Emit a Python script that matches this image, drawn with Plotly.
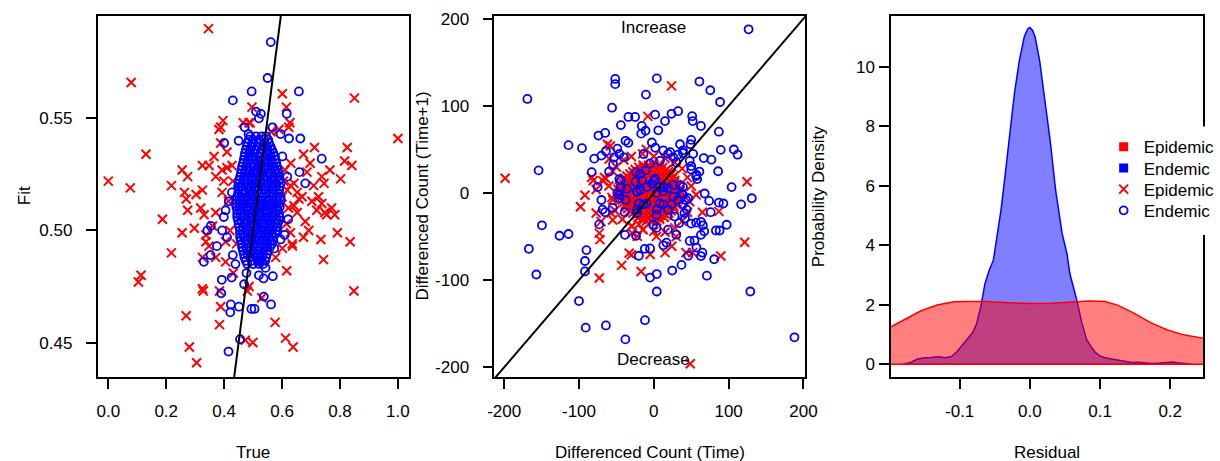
import plotly.graph_objects as go

# ------------------------------------------------------------------ data
# Panel 1: (True, Fit)
fit_epidemic = [
    (0.346, 0.590), (0.079, 0.566), (0.130, 0.534), (0.000, 0.522), (0.076, 0.519), (0.218, 0.520),
    (0.187, 0.505), (0.255, 0.527), (0.274, 0.524), (0.263, 0.517), (0.269, 0.514), (0.274, 0.509),
    (0.255, 0.499), (0.218, 0.490), (0.113, 0.480), (0.104, 0.477), (0.269, 0.462), (0.280, 0.448),
    (0.305, 0.441), (0.325, 0.474), (0.328, 0.473), (0.384, 0.458), (0.388, 0.466), (0.384, 0.473),
    (0.325, 0.518), (0.319, 0.510), (0.303, 0.516), (0.331, 0.507), (0.297, 0.501), (0.337, 0.495),
    (0.348, 0.493), (0.325, 0.488), (0.348, 0.529), (0.325, 0.529), (0.365, 0.533), (0.382, 0.545),
    (0.388, 0.546), (0.396, 0.549), (0.371, 0.524), (0.393, 0.527), (0.410, 0.528), (0.427, 0.529),
    (0.399, 0.522), (0.393, 0.517), (0.388, 0.539), (0.371, 0.508), (0.360, 0.502), (0.337, 0.498),
    (0.371, 0.488), (0.405, 0.486), (0.473, 0.451), (0.499, 0.450), (0.490, 0.548), (0.496, 0.555),
    (0.601, 0.561), (0.850, 0.559), (1.000, 0.541), (0.615, 0.555), (0.627, 0.548), (0.712, 0.537),
    (0.825, 0.537), (0.816, 0.531), (0.841, 0.529), (0.765, 0.527), (0.802, 0.523), (0.737, 0.524),
    (0.745, 0.521), (0.697, 0.530), (0.674, 0.534), (0.686, 0.526), (0.629, 0.520), (0.652, 0.517),
    (0.669, 0.515), (0.703, 0.513), (0.726, 0.515), (0.748, 0.508), (0.782, 0.507), (0.737, 0.512),
    (0.680, 0.504), (0.692, 0.500), (0.674, 0.497), (0.641, 0.511), (0.652, 0.508), (0.629, 0.499),
    (0.635, 0.494), (0.734, 0.496), (0.791, 0.499), (0.835, 0.495), (0.743, 0.487), (0.616, 0.482),
    (0.578, 0.488), (0.848, 0.473), (0.576, 0.459), (0.612, 0.452), (0.638, 0.448), (0.601, 0.492),
    (0.641, 0.521), (0.618, 0.518), (0.658, 0.514), (0.709, 0.520), (0.720, 0.509), (0.771, 0.510),
    (0.754, 0.507), (0.623, 0.546), (0.589, 0.545), (0.562, 0.544), (0.466, 0.548), (0.486, 0.548),
    (0.530, 0.470), (0.480, 0.473), (0.486, 0.475), (0.636, 0.493), (0.432, 0.481), (0.443, 0.494),
    (0.610, 0.527), (0.622, 0.510), (0.600, 0.515), (0.615, 0.503), (0.630, 0.530), (0.605, 0.522),
    (0.415, 0.513), (0.420, 0.500), (0.405, 0.495), (0.430, 0.522), (0.410, 0.535),
]

fit_endemic_outer = [
    (0.561, 0.584), (0.550, 0.568), (0.658, 0.562), (0.495, 0.562), (0.430, 0.558), (0.616, 0.552),
    (0.510, 0.553), (0.527, 0.552), (0.520, 0.550), (0.567, 0.546), (0.595, 0.543), (0.624, 0.541),
    (0.663, 0.541), (0.737, 0.532), (0.660, 0.526), (0.680, 0.521), (0.618, 0.524), (0.601, 0.533),
    (0.621, 0.505), (0.609, 0.498), (0.584, 0.500), (0.595, 0.496), (0.573, 0.492), (0.400, 0.539),
    (0.450, 0.540), (0.471, 0.546), (0.484, 0.543), (0.354, 0.502), (0.342, 0.500), (0.330, 0.486),
    (0.353, 0.489), (0.375, 0.493), (0.393, 0.500), (0.399, 0.506), (0.392, 0.478), (0.426, 0.479),
    (0.469, 0.476), (0.390, 0.472), (0.423, 0.467), (0.421, 0.4635), (0.451, 0.466), (0.494, 0.465),
    (0.505, 0.465), (0.455, 0.4515), (0.415, 0.446), (0.405, 0.509), (0.416, 0.513), (0.427, 0.517),
    (0.410, 0.497), (0.430, 0.489), (0.439, 0.485), (0.537, 0.4705), (0.562, 0.467), (0.520, 0.480),
    (0.543, 0.4833), (0.568, 0.4796), (0.536, 0.4786), (0.477, 0.481), (0.522, 0.486),
]

fit_endemic_core = [
    (0.490, 0.542), (0.510, 0.542), (0.530, 0.542), (0.545, 0.542),
    (0.480, 0.539), (0.500, 0.539), (0.520, 0.539), (0.540, 0.539), (0.555, 0.539),
    (0.475, 0.536), (0.490, 0.536), (0.510, 0.536), (0.530, 0.536), (0.550, 0.536), (0.565, 0.536),
    (0.470, 0.533), (0.485, 0.533), (0.500, 0.533), (0.520, 0.533), (0.540, 0.533), (0.560, 0.533),
    (0.575, 0.533),
    (0.465, 0.530), (0.480, 0.530), (0.500, 0.530), (0.515, 0.530), (0.530, 0.530), (0.550, 0.530),
    (0.565, 0.530), (0.580, 0.530),
    (0.460, 0.527), (0.475, 0.527), (0.490, 0.527), (0.510, 0.527), (0.525, 0.527), (0.540, 0.527),
    (0.560, 0.527), (0.575, 0.527), (0.585, 0.527),
    (0.455, 0.524), (0.470, 0.524), (0.485, 0.524), (0.500, 0.524), (0.520, 0.524), (0.535, 0.524),
    (0.550, 0.524), (0.570, 0.524), (0.585, 0.524),
    (0.450, 0.521), (0.465, 0.521), (0.480, 0.521), (0.500, 0.521), (0.515, 0.521), (0.530, 0.521),
    (0.550, 0.521), (0.565, 0.521), (0.580, 0.521), (0.595, 0.521),
    (0.450, 0.518), (0.465, 0.518), (0.485, 0.518), (0.505, 0.518), (0.520, 0.518), (0.540, 0.518),
    (0.555, 0.518), (0.570, 0.518), (0.590, 0.518),
    (0.445, 0.515), (0.460, 0.515), (0.480, 0.515), (0.495, 0.515), (0.510, 0.515), (0.530, 0.515),
    (0.545, 0.515), (0.565, 0.515), (0.580, 0.515), (0.595, 0.515),
    (0.440, 0.512), (0.455, 0.512), (0.475, 0.512), (0.490, 0.512), (0.510, 0.512), (0.525, 0.512),
    (0.540, 0.512), (0.560, 0.512), (0.575, 0.512), (0.590, 0.512),
    (0.445, 0.509), (0.460, 0.509), (0.480, 0.509), (0.500, 0.509), (0.515, 0.509), (0.535, 0.509),
    (0.550, 0.509), (0.570, 0.509), (0.585, 0.509),
    (0.445, 0.506), (0.465, 0.506), (0.485, 0.506), (0.500, 0.506), (0.520, 0.506), (0.540, 0.506),
    (0.555, 0.506), (0.570, 0.506), (0.590, 0.506),
    (0.450, 0.503), (0.470, 0.503), (0.490, 0.503), (0.505, 0.503), (0.525, 0.503), (0.540, 0.503),
    (0.560, 0.503), (0.575, 0.503), (0.585, 0.503),
    (0.455, 0.500), (0.475, 0.500), (0.490, 0.500), (0.510, 0.500), (0.530, 0.500), (0.545, 0.500),
    (0.560, 0.500), (0.580, 0.500),
    (0.455, 0.497), (0.470, 0.497), (0.490, 0.497), (0.505, 0.497), (0.520, 0.497), (0.540, 0.497),
    (0.555, 0.497), (0.570, 0.497),
    (0.460, 0.494), (0.480, 0.494), (0.500, 0.494), (0.515, 0.494), (0.535, 0.494), (0.550, 0.494),
    (0.565, 0.494),
    (0.465, 0.491), (0.485, 0.491), (0.500, 0.491), (0.520, 0.491), (0.535, 0.491), (0.550, 0.491),
    (0.470, 0.488), (0.490, 0.488), (0.510, 0.488), (0.525, 0.488), (0.545, 0.488),
    (0.480, 0.485), (0.500, 0.485), (0.520, 0.485), (0.535, 0.485),
]

fit_endemic_core_b = [
    (0.485, 0.5405), (0.500, 0.5405), (0.520, 0.5405), (0.538, 0.5405), (0.552, 0.5405),
    (0.478, 0.5375), (0.495, 0.5375), (0.515, 0.5375), (0.535, 0.5375), (0.548, 0.5375), (0.560, 0.5375),
    (0.472, 0.5345), (0.488, 0.5345), (0.505, 0.5345), (0.525, 0.5345), (0.545, 0.5345), (0.558, 0.5345),
    (0.570, 0.5345),
    (0.468, 0.5315), (0.483, 0.5315), (0.498, 0.5315), (0.510, 0.5315), (0.528, 0.5315), (0.545, 0.5315),
    (0.562, 0.5315), (0.577, 0.5315),
    (0.462, 0.5285), (0.478, 0.5285), (0.492, 0.5285), (0.505, 0.5285), (0.520, 0.5285), (0.535, 0.5285),
    (0.552, 0.5285), (0.570, 0.5285), (0.582, 0.5285),
    (0.458, 0.5255), (0.472, 0.5255), (0.488, 0.5255), (0.505, 0.5255), (0.518, 0.5255), (0.532, 0.5255),
    (0.548, 0.5255), (0.562, 0.5255), (0.578, 0.5255), (0.588, 0.5255),
    (0.452, 0.5225), (0.468, 0.5225), (0.482, 0.5225), (0.495, 0.5225), (0.510, 0.5225), (0.525, 0.5225),
    (0.542, 0.5225), (0.560, 0.5225), (0.575, 0.5225), (0.590, 0.5225),
    (0.448, 0.5195), (0.458, 0.5195), (0.475, 0.5195), (0.492, 0.5195), (0.510, 0.5195), (0.528, 0.5195),
    (0.545, 0.5195), (0.562, 0.5195), (0.578, 0.5195), (0.592, 0.5195),
    (0.448, 0.5165), (0.462, 0.5165), (0.472, 0.5165), (0.490, 0.5165), (0.502, 0.5165), (0.520, 0.5165),
    (0.538, 0.5165), (0.555, 0.5165), (0.572, 0.5165), (0.588, 0.5165),
    (0.442, 0.5135), (0.452, 0.5135), (0.468, 0.5135), (0.485, 0.5135), (0.500, 0.5135), (0.518, 0.5135),
    (0.532, 0.5135), (0.552, 0.5135), (0.568, 0.5135), (0.582, 0.5135), (0.595, 0.5135),
    (0.442, 0.5105), (0.452, 0.5105), (0.468, 0.5105), (0.485, 0.5105), (0.505, 0.5105), (0.520, 0.5105),
    (0.530, 0.5105), (0.545, 0.5105), (0.565, 0.5105), (0.580, 0.5105), (0.592, 0.5105),
    (0.445, 0.5075), (0.455, 0.5075), (0.472, 0.5075), (0.490, 0.5075), (0.508, 0.5075), (0.525, 0.5075),
    (0.545, 0.5075), (0.562, 0.5075), (0.578, 0.5075), (0.590, 0.5075),
    (0.448, 0.5045), (0.458, 0.5045), (0.478, 0.5045), (0.495, 0.5045), (0.512, 0.5045), (0.530, 0.5045),
    (0.548, 0.5045), (0.562, 0.5045), (0.580, 0.5045), (0.590, 0.5045),
    (0.452, 0.5015), (0.465, 0.5015), (0.482, 0.5015), (0.500, 0.5015), (0.518, 0.5015), (0.535, 0.5015),
    (0.552, 0.5015), (0.568, 0.5015), (0.582, 0.5015),
    (0.455, 0.4985), (0.465, 0.4985), (0.482, 0.4985), (0.498, 0.4985), (0.515, 0.4985), (0.532, 0.4985),
    (0.550, 0.4985), (0.565, 0.4985), (0.578, 0.4985),
    (0.458, 0.4955), (0.475, 0.4955), (0.495, 0.4955), (0.510, 0.4955), (0.528, 0.4955), (0.545, 0.4955),
    (0.560, 0.4955), (0.570, 0.4955),
    (0.462, 0.4925), (0.478, 0.4925), (0.492, 0.4925), (0.510, 0.4925), (0.525, 0.4925), (0.542, 0.4925),
    (0.558, 0.4925),
    (0.468, 0.4895), (0.480, 0.4895), (0.498, 0.4895), (0.515, 0.4895), (0.532, 0.4895), (0.548, 0.4895),
    (0.475, 0.4865), (0.495, 0.4865), (0.515, 0.4865), (0.530, 0.4865), (0.542, 0.4865),
]

# Panel 2: (Differenced Count (Time), Differenced Count (Time+1))
diff_epidemic_outer = [
    (-198.7, 17), (-92, -2.5), (-98, -15.7), (-72.8, -97.6), (-43, -83), (-17, -90), (-66, 18),
    (-59.6, 39), (-83, 18), (-77, -23), (-72.8, -46), (-72, -53.5), (-70.6, -32.8), (-57, -23),
    (-55, -31), (-33, -69), (-20, -36), (-29, -46), (-62, 56), (-77, 4), (-55, -8),
    (23.7, 123), (124.6, 13), (121.5, -56.5), (89.5, -72.3), (87, -21), (65, -22), (56.6, -2),
    (48.7, -196), (15, -68.4), (24, -61), (43, -68.4), (52, -68.4),
    (-30, -71), (-5, -70.5), (3.5, -49.7), (-22, -49.7), (-29, -38), (-14, -42),
    (-8, 88), (-81, 14.5), (-68, 14), (-64, 16.6), (-58, 54),
    (-55, 25), (-50, 30), (-40, 38), (-30, 42), (-15, 45), (0, 42), (15, 40), (28, 35), (38, 28),
    (45, 18), (50, 8), (48, -10), (45, -22), (38, -32), (28, -40), (15, -45), (0, -44), (-15, -42),
    (-30, -38), (-42, -30), (-52, -20), (-56, -5), (-60, 8), (-10, 50), (30, -50),
]

diff_epidemic_core = [
    (-14, 32), (-7, 32), (0, 32), (7, 32),
    (-25, 27), (-18, 27), (-11, 27), (-4, 27), (3, 27), (10, 27), (17, 27),
    (-32, 22), (-25, 22), (-18, 22), (-11, 22), (-4, 22), (3, 22), (10, 22), (17, 22), (24, 22),
    (-39, 17), (-32, 17), (-25, 17), (-18, 17), (-11, 17), (-4, 17), (3, 17), (10, 17), (17, 17),
    (25, 17),
    (-42, 12), (-35, 12), (-28, 12), (-21, 12), (-14, 12), (-7, 12), (0, 12), (7, 12), (14, 12),
    (21, 12), (28, 12),
    (-46, 7), (-39, 7), (-32, 7), (-25, 7), (-18, 7), (-11, 7), (-4, 7), (3, 7), (10, 7), (17, 7),
    (24, 7), (31, 7),
    (-46, 2), (-39, 2), (-32, 2), (-25, 2), (-18, 2), (-11, 2), (-4, 2), (3, 2), (10, 2), (17, 2),
    (24, 2), (31, 2), (35, 2),
    (-45, -3), (-38, -3), (-31, -3), (-24, -3), (-17, -3), (-10, -3), (-3, -3), (4, -3), (11, -3),
    (18, -3), (25, -3), (32, -3),
    (-42, -8), (-35, -8), (-28, -8), (-21, -8), (-14, -8), (-7, -8), (0, -8), (7, -8), (14, -8),
    (21, -8), (28, -8), (33, -8),
    (-38, -13), (-31, -13), (-24, -13), (-17, -13), (-10, -13), (-3, -13), (4, -13), (11, -13),
    (18, -13), (24, -13), (30, -13),
    (-35, -18), (-28, -18), (-21, -18), (-14, -18), (-7, -18), (0, -18), (7, -18), (14, -18),
    (21, -18), (27, -18),
    (-28, -23), (-21, -23), (-14, -23), (-7, -23), (0, -23), (6, -23), (13, -23), (20, -23),
    (-21, -28), (-14, -28), (-7, -28), (0, -28), (7, -28), (14, -28),
    (-10, -32), (-3, -32), (4, -32),
]

diff_epidemic_core_b = [
    (-20, 29.5), (-14, 29.5), (-7, 29.5), (0, 29.5), (7, 29.5), (12, 29.5),
    (-28, 24.5), (-21, 24.5), (-14, 24.5), (-7, 24.5), (0, 24.5), (7, 24.5), (14, 24.5), (20, 24.5),
    (-36, 19.5), (-28, 19.5), (-21, 19.5), (-14, 19.5), (-7, 19.5), (0, 19.5), (7, 19.5), (14, 19.5),
    (21, 19.5), (27, 19.5),
    (-40, 14.5), (-35, 14.5), (-28, 14.5), (-21, 14.5), (-14, 14.5), (-7, 14.5), (0, 14.5), (7, 14.5),
    (14, 14.5), (21, 14.5), (28, 14.5),
    (-44, 9.5), (-38, 9.5), (-31, 9.5), (-24, 9.5), (-17, 9.5), (-10, 9.5), (-3, 9.5), (4, 9.5),
    (11, 9.5), (18, 9.5), (25, 9.5), (31, 9.5),
    (-48, 4.5), (-42, 4.5), (-35, 4.5), (-28, 4.5), (-21, 4.5), (-14, 4.5), (-7, 4.5), (0, 4.5),
    (7, 4.5), (14, 4.5), (21, 4.5), (28, 4.5), (34, 4.5),
    (-48, -0.5), (-42, -0.5), (-35, -0.5), (-28, -0.5), (-21, -0.5), (-14, -0.5), (-7, -0.5), (0, -0.5),
    (7, -0.5), (14, -0.5), (21, -0.5), (28, -0.5), (34, -0.5),
    (-44, -5.5), (-40, -5.5), (-35, -5.5), (-28, -5.5), (-21, -5.5), (-14, -5.5), (-7, -5.5), (0, -5.5),
    (7, -5.5), (14, -5.5), (21, -5.5), (28, -5.5), (34, -5.5),
    (-40, -10.5), (-31, -10.5), (-24, -10.5), (-17, -10.5), (-10, -10.5), (-3, -10.5), (4, -10.5),
    (11, -10.5), (18, -10.5), (25, -10.5), (31, -10.5),
    (-37, -15.5), (-28, -15.5), (-21, -15.5), (-14, -15.5), (-7, -15.5), (0, -15.5), (7, -15.5),
    (14, -15.5), (21, -15.5), (27, -15.5),
    (-32, -20.5), (-24, -20.5), (-17, -20.5), (-10, -20.5), (-3, -20.5), (4, -20.5), (10, -20.5),
    (17, -20.5), (23, -20.5),
    (-24, -25.5), (-17, -25.5), (-10, -25.5), (-3, -25.5), (4, -25.5), (10, -25.5), (17, -25.5),
    (-16, -30), (-7, -30), (0, -30), (8, -30),
]

diff_endemic = [
    (-169, 108), (-154, 26), (-149.5, -37), (-167, -64), (-157, -93.5), (-126, -49), (-114, -47),
    (-90, -65.5), (-92, -78), (-92, -90), (-100, -124), (-91, -154.5), (-64, -152), (-38, -168),
    (-11.8, -146), (-51.5, 131), (-51.5, 125), (-10.5, 113), (-55.8, 98), (-33.9, 87.4), (-25, 87.4),
    (-44, 78), (-74, 66), (-65, 69), (-114, 55), (-96, 51.5), (-79.6, 39.5), (-64, 48), (-54.4, 33),
    (-48.7, 51), (-37.8, 60), (-34, 57.6), (-40, 41), (-16, 77), (-16.8, 68.2), (-13.7, 44.8),
    (-83, 24), (-75, 7), (-70, -8), (-65, -22), (-73, -36), (-39, -22), (-38.6, -48), (-23.7, -49),
    (-20, -72), (-12, -64), (-5, -97), (-46, 16), (-44, 7), (-46, -2), (-24, 24), (-23, 1.5),
    (-20, -12),
    (126.7, 188), (4, 131.6), (61, 128), (75.5, 118), (88.6, 104.5), (1.8, 90), (15, 82.6),
    (23.7, 91), (32.5, 94), (6, 72), (51.3, 88.2), (52, 82.6), (63, 77), (87, 70.4), (50, 61),
    (49, 56), (89.5, 49.6), (107, 50), (112, 44), (66.7, 40.2), (77, 38.3), (86, 25), (56.6, 19.5),
    (58, 16), (104, 6.8), (131, -6), (116.7, -13), (68, -0.5), (74, -9), (87, -11), (93, -12),
    (76, -22), (97.4, -36.4), (83, -43), (88, -43), (67.5, -44), (63, -48), (50, -35), (56.6, -34),
    (63, -33), (54.4, -54.6), (63, -72.3), (65, -68.5), (80.7, -76), (71, -94.9), (37, -82.5),
    (24.6, -89), (4, -93), (4, -113), (129, -113), (188, -165.6), (41, -23), (43, -8), (39, 7),
    (50, 27), (30, 35), (39, 46), (32.5, 44),
    (-44, 14.5), (-48.7, 0), (-46, -6), (-36, 5), (-22.4, 2), (-24.6, 13), (-16, 14.5), (-9, 7),
    (0, 14.5), (8.3, 7), (4, 0), (12.7, 2), (19, 5.7), (26, -4), (35, 9), (37, 0), (46, -6),
    (-11, 26), (-5, 34), (8.3, 37), (19, 45), (26, 41), (12.7, 49), (2, 52), (-2.6, 58),
    (-11, 71.5), (-46, 45), (-53, 41), (-70, 43), (-59.7, 24.7), (-68.5, -19), (-55, -17),
    (-22.4, -19), (-13.6, -13), (4, -19), (12.7, -13), (19, -19), (23.7, -13), (39, -13), (44, -19),
    (57, 21), (61, 24.7), (50, 31), (48, 37), (52.6, 45), (39, 49), (35, 56), (22, 47),
    (-5, -63.6), (12.7, -60), (17, -57), (48, -55), (57, -62.6), (46, -72), (41.7, -29), (65.6, -37),
    (28, -27), (3.5, -40), (-1, -36.4), (19, -42), (30, -47.8), (33.7, -34.6),
    (-18, 22), (2, 16.4), (13, 7), (26, 9), (-9.6, -12), (8, -12), (-37.7, -8), (-22.4, -23),
    (3.5, -25), (32, -8), (39, -2), (-18, 3.5), (-2.6, 11),
]

# Panel 3: kernel density of residuals
resid_endemic_x = [
    -0.181, -0.170, -0.160, -0.150, -0.140, -0.130, -0.120, -0.112, -0.104, -0.097, -0.090, -0.082,
    -0.076, -0.070, -0.064, -0.058, -0.052, -0.048, -0.041, -0.035, -0.030, -0.022, -0.015, -0.008,
    -0.003, 0.000, 0.004, 0.0075, 0.014, 0.020, 0.029, 0.037, 0.046, 0.053, 0.057, 0.062, 0.067,
    0.074, 0.081, 0.087, 0.093, 0.100, 0.107, 0.115, 0.125, 0.135, 0.145, 0.155, 0.165, 0.175,
    0.185, 0.195, 0.205, 0.215, 0.230,
]
resid_endemic_d = [
    0.0, 0.06, 0.18, 0.22, 0.23, 0.25, 0.22, 0.26, 0.42, 0.62, 0.83, 1.05,
    1.35, 1.93, 2.7, 3.15, 3.5, 4.1, 5.2, 6.4, 7.5, 9.1, 10.2, 11.0,
    11.28, 11.32, 11.22, 11.0, 10.2, 9.1, 7.5, 5.8, 4.4, 3.7, 3.05, 2.6, 2.15,
    1.4, 0.83, 0.6, 0.41, 0.28, 0.22, 0.19, 0.15, 0.09, 0.06, 0.07, 0.05, 0.03,
    0.04, 0.05, 0.08, 0.04, 0.0,
]
resid_epidemic_x = [
    -0.26, -0.23, -0.197, -0.174, -0.155, -0.132, -0.108, -0.090, -0.062, -0.030, 0.000, 0.030,
    0.060, 0.085, 0.107, 0.125, 0.149, 0.172, 0.195, 0.219, 0.246, 0.27, 0.30,
]
resid_epidemic_d = [
    0.6, 0.95, 1.27, 1.55, 1.80, 1.99, 2.10, 2.11, 2.11, 2.07, 2.04, 2.05,
    2.10, 2.13, 2.11, 1.99, 1.71, 1.40, 1.16, 0.99, 0.88, 0.70, 0.45,
]

# ticks
fit_xticks = [0.0, 0.2, 0.4, 0.6, 0.8, 1.0]
fit_xticklabels = ["0.0", "0.2", "0.4", "0.6", "0.8", "1.0"]
fit_yticks = [0.45, 0.50, 0.55]
fit_yticklabels = ["0.45", "0.50", "0.55"]
diff_ticks = [-200, -100, 0, 100, 200]
diff_ticklabels = ["-200", "-100", "0", "100", "200"]
res_xticks = [-0.1, 0.0, 0.1, 0.2]
res_xticklabels = ["-0.1", "0.0", "0.1", "0.2"]
res_yticks = [0, 2, 4, 6, 8, 10]
res_yticklabels = ["0", "2", "4", "6", "8", "10"]

# axis ranges
fit_xrange = [-0.037, 1.037]
fit_yrange = [0.4346, 0.5957]
diff_xrange = [-213.2, 202.6]
diff_yrange = [-211.3, 203.4]
res_xrange = [-0.1978, 0.2468]
res_yrange = [-0.43, 11.71]

# ------------------------------------------------------------------ figure
W, H = 1220, 461
FONT = "Liberation Sans, Arial, Helvetica, sans-serif"
RED, BLUE = "#FF0000", "#0000FF"


def fx(px):
    return px / W


def fy(py):
    return 1 - py / H


def unzip(pts):
    return [p[0] for p in pts], [p[1] for p in pts]


fit_endemic = fit_endemic_outer + fit_endemic_core + fit_endemic_core_b
diff_epidemic = diff_epidemic_outer + diff_epidemic_core + diff_epidemic_core_b

x_marker = dict(symbol="x-thin", size=9, color=RED, line=dict(width=2, color=RED))
o_marker = dict(symbol="circle-open", size=8, color=BLUE, line=dict(width=1.8, color=BLUE))

fig = go.Figure()

# density panel (blue first, red over it)
bx = resid_endemic_x + [resid_endemic_x[-1], resid_endemic_x[0]]
by = resid_endemic_d + [0, 0]
fig.add_trace(go.Scatter(x=bx, y=by, mode="lines", fill="toself", fillcolor="rgba(0,0,255,0.5)",
                         line=dict(color=BLUE, width=1.5), showlegend=False, hoverinfo="skip",
                         xaxis="x3", yaxis="y3"))
rx = resid_epidemic_x + [resid_epidemic_x[-1], resid_epidemic_x[0]]
ry = resid_epidemic_d + [0, 0]
fig.add_trace(go.Scatter(x=rx, y=ry, mode="lines", fill="toself", fillcolor="rgba(255,0,0,0.5)",
                         line=dict(color=RED, width=1.5), showlegend=False, hoverinfo="skip",
                         xaxis="x3", yaxis="y3"))

# legend squares (each legend entry gets its own legend box so spacing can match)
fig.add_trace(go.Scatter(x=[None], y=[None], mode="markers", name="Epidemic", legend="legend",
                         marker=dict(symbol="square", size=9, color=RED), xaxis="x3", yaxis="y3"))
fig.add_trace(go.Scatter(x=[None], y=[None], mode="markers", name="Endemic", legend="legend2",
                         marker=dict(symbol="square", size=9, color=BLUE), xaxis="x3", yaxis="y3"))

# panel 1
ex, ey = unzip(fit_epidemic)
fig.add_trace(go.Scatter(x=ex, y=ey, mode="markers", marker=x_marker, name="Epidemic",
                         legend="legend3", xaxis="x", yaxis="y"))
nx, ny = unzip(fit_endemic)
fig.add_trace(go.Scatter(x=nx, y=ny, mode="markers", marker=o_marker, name="Endemic",
                         legend="legend4", xaxis="x", yaxis="y"))
fig.add_trace(go.Scatter(x=fit_yrange, y=fit_yrange, mode="lines", line=dict(color="black", width=2),
                         showlegend=False, xaxis="x", yaxis="y"))

# panel 2
ex, ey = unzip(diff_epidemic)
fig.add_trace(go.Scatter(x=ex, y=ey, mode="markers", marker=x_marker, showlegend=False,
                         xaxis="x2", yaxis="y2"))
nx, ny = unzip(diff_endemic)
fig.add_trace(go.Scatter(x=nx, y=ny, mode="markers", marker=o_marker, showlegend=False,
                         xaxis="x2", yaxis="y2"))
fig.add_trace(go.Scatter(x=[diff_xrange[0], diff_yrange[1]], y=[diff_xrange[0], diff_yrange[1]],
                         mode="lines", line=dict(color="black", width=2), showlegend=False,
                         xaxis="x2", yaxis="y2"))

tickfont = dict(family=FONT, size=17, color="black")
common = dict(showline=True, mirror=True, linecolor="black", linewidth=1.5, ticks="outside",
              ticklen=10, tickwidth=1.5, tickcolor="black", showgrid=False, zeroline=False,
              tickfont=tickfont, fixedrange=True)

ydom = [fy(376), fy(10)]
leg_common = dict(xanchor="left", yanchor="middle", bgcolor="rgba(0,0,0,0)", borderwidth=0,
                  font=dict(family=FONT, size=17, color="black"), itemwidth=30)
fig.update_layout(
    width=W, height=H, autosize=False,
    margin=dict(l=0, r=0, t=0, b=0),
    paper_bgcolor="white", plot_bgcolor="white",
    font=dict(family=FONT, size=17, color="black"),
    xaxis=dict(domain=[fx(92), fx(408)], range=fit_xrange, tickvals=fit_xticks,
               ticktext=fit_xticklabels, anchor="y", ticklabelstandoff=8, **common),
    yaxis=dict(domain=ydom, range=fit_yrange, tickvals=fit_yticks, ticktext=fit_yticklabels,
               anchor="x", ticklabelstandoff=10, **common),
    xaxis2=dict(domain=[fx(495), fx(811)], range=diff_xrange, tickvals=diff_ticks,
                ticktext=diff_ticklabels, anchor="y2", ticklabelstandoff=8, **common),
    yaxis2=dict(domain=ydom, range=diff_yrange, tickvals=diff_ticks, ticktext=diff_ticklabels,
                anchor="x2", ticklabelstandoff=10, **common),
    xaxis3=dict(domain=[fx(898), fx(1215)], range=res_xrange, tickvals=res_xticks,
                ticktext=res_xticklabels, anchor="y3", ticklabelstandoff=8, **common),
    yaxis3=dict(domain=ydom, range=res_yrange, tickvals=res_yticks, ticktext=res_yticklabels,
                anchor="x3", ticklabelstandoff=1, **common),
    legend=dict(x=fx(1114), y=fy(143), **leg_common),
    legend2=dict(x=fx(1114), y=fy(164.5), **leg_common),
    legend3=dict(x=fx(1114), y=fy(186), **leg_common),
    legend4=dict(x=fx(1114), y=fy(207.5), **leg_common),
    showlegend=True,
)

# white background behind the legend block (it hides the frame line there, as in the original)
fig.add_shape(type="rect", xref="paper", yref="paper", x0=fx(1108), x1=1.0, y0=fy(232), y1=fy(122),
              fillcolor="white", line=dict(width=0), layer="above")

annots = [
    dict(text="True", x=fx(250), y=fy(452)),
    dict(text="Differenced Count (Time)", x=fx(653), y=fy(452)),
    dict(text="Residual", x=fx(1056.5), y=fy(452)),
    dict(text="Fit", x=fx(18.5), y=fy(192.5), textangle=-90),
    dict(text="Differenced Count (Time+1)", x=fx(421.7), y=fy(193), textangle=-90),
    dict(text="Probability Density", x=fx(825), y=fy(193.5), textangle=-90),
]
for a in annots:
    fig.add_annotation(xref="paper", yref="paper", xanchor="center", yanchor="middle",
                       showarrow=False, font=dict(family=FONT, size=17, color="black"), **a)

fig.add_annotation(text="Increase", x=0, y=190, xref="x2", yref="y2", showarrow=False,
                   xanchor="center", yanchor="middle", font=dict(family=FONT, size=17, color="black"))
fig.add_annotation(text="Decrease", x=0, y=-191, xref="x2", yref="y2", showarrow=False,
                   xanchor="center", yanchor="middle", font=dict(family=FONT, size=17, color="black"))

fig.write_html("out.html", config={"displayModeBar": False},
               post_script="document.body.style.margin='0px';document.body.style.overflow='hidden';")
